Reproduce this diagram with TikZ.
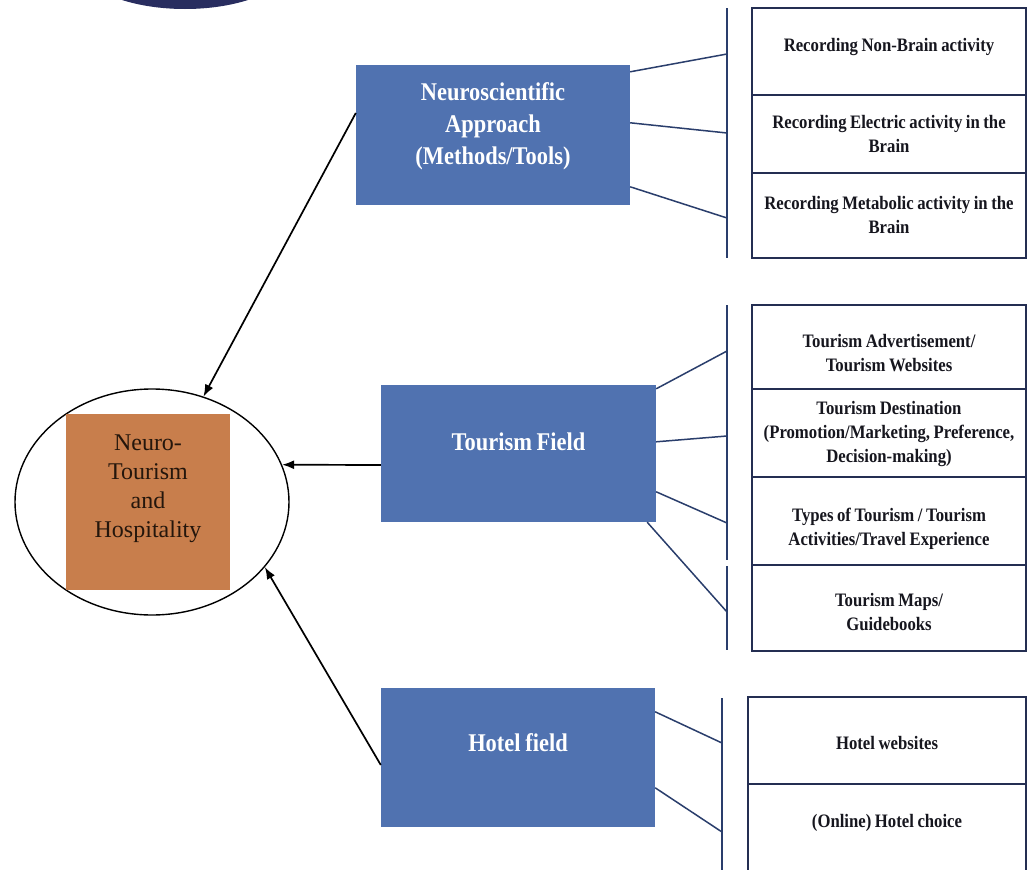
\documentclass[tikz,border=0pt]{standalone}
\usepackage{fontspec}
\setmainfont{Liberation Serif}
\newfontfamily\condfont{Liberation Serif}[FakeStretch=0.88,WordSpace=0.85]
\usetikzlibrary{arrows.meta,shapes.geometric}

\definecolor{fieldblue}{RGB}{80,114,176}
\definecolor{coreorange}{RGB}{200,126,76}
\definecolor{linknavy}{RGB}{42,62,108}
\definecolor{boxnavy}{RGB}{36,46,82}
\definecolor{itemtext}{RGB}{22,22,30}
\definecolor{coretext}{RGB}{36,22,12}
\definecolor{badge}{RGB}{40,45,95}

\tikzset{
  field/.style={rectangle, fill=fieldblue, inner sep=0pt},
  fieldlabel/.style={text=white, align=center, inner sep=0pt,
    font=\condfont\bfseries\fontsize{25.5}{32}\selectfont},
  item/.style={rectangle, draw=boxnavy, line width=1.6pt, fill=white, inner sep=0pt},
  itemlabel/.style={text=itemtext, align=center, inner sep=0pt,
    font=\condfont\bfseries\fontsize{19}{24}\selectfont},
  link/.style={draw=linknavy, line width=1.5pt},
  feed/.style={draw=black, line width=1.7pt, -{Latex[length=12pt,width=9pt]}},
}

\begin{document}
\begin{tikzpicture}[x=1pt,y=-1pt]
\useasboundingbox (0,0) rectangle (1028,870);
\clip (0,0) rectangle (1028,870);
\fill[white] (0,0) rectangle (1028,870);

% dark badge at the top edge
\fill[badge] (185,-41) ellipse [x radius=110, y radius=50];

% central topic
\node[ellipse, draw=black, line width=1.4pt, minimum width=274pt, minimum height=226pt]
  (ell) at (152,502) {};
\node[rectangle, fill=coreorange, minimum width=164pt, minimum height=176pt]
  (core) at (148,502) {};
\node[text=coretext, align=center, inner sep=0pt, font=\fontsize{24}{29}\selectfont]
  (coretxt) at ([yshift=13pt]core.center) {Neuro-\\Tourism\\and\\Hospitality};

% the three fields
\node[field, minimum width=274pt, minimum height=140pt] (nsa) at (493,135) {};
\node[fieldlabel] (nsatxt) at ([yshift=9pt]nsa.center)
  {Neuroscientific\\Approach\\(Methods/Tools)};
\node[field, minimum width=275pt, minimum height=137pt] (tf) at (518.5,453.5) {};
\node[fieldlabel] (tftxt) at ([yshift=11.5pt]tf.center) {Tourism Field};
\node[field, minimum width=274pt, minimum height=139pt] (hf) at (518,757.5) {};
\node[fieldlabel] (hftxt) at ([yshift=14.5pt]hf.center) {Hotel field};

% arrows into the central topic
\draw[feed] ([yshift=22pt]nsa.west) -- (ell.64);
\draw[feed] ([yshift=-11.5pt]tf.west) -- (ell.16);
\draw[feed] ([yshift=-7.5pt]hf.west) -- (ell.-30);

% methods / tools
\node[item, minimum width=274pt, minimum height=87pt] (m1) at (889,51.5) {};
\node[itemlabel] (m1t) at ([yshift=4.5pt]m1.center) {Recording Non-Brain activity};
\node[item, minimum width=274pt, minimum height=78pt] (m2) at (889,134) {};
\node[itemlabel] (m2t) at (m2.center) {Recording Electric activity in the\\Brain};
\node[item, minimum width=274pt, minimum height=85pt] (m3) at (889,215.5) {};
\node[itemlabel] (m3t) at ([yshift=1pt]m3.center) {Recording Metabolic activity in the\\Brain};

\coordinate (v1t) at (727,8);
\coordinate (v1b) at (727,258);
\coordinate (v1a) at (727,54);
\coordinate (v1c) at (727,133);
\coordinate (v1d) at (727,218);
\draw[link] (v1t) -- (v1b);
\draw[link] ([yshift=-7pt]nsa.north east) -- (v1a);
\draw[link] ([yshift=-58pt]nsa.north east) -- (v1c);
\draw[link] ([yshift=-122pt]nsa.north east) -- (v1d);

% tourism field
\node[item, minimum width=274pt, minimum height=84pt] (t1) at (889,347) {};
\node[itemlabel] (t1t) at ([yshift=-6.5pt]t1.center) {Tourism Advertisement/\\Tourism Websites};
\node[item, minimum width=274pt, minimum height=88pt] (t2) at (889,433) {};
\node[itemlabel] (t2t) at ([yshift=-1pt]t2.center)
  {Tourism Destination\\(Promotion/Marketing, Preference,\\Decision-making)};
\node[item, minimum width=274pt, minimum height=88pt] (t3) at (889,521) {};
\node[itemlabel] (t3t) at ([yshift=-8pt]t3.center)
  {Types of Tourism / Tourism\\Activities/Travel Experience};
\node[item, minimum width=274pt, minimum height=86pt] (t4) at (889,608) {};
\node[itemlabel] (t4t) at ([yshift=-4.5pt]t4.center) {Tourism Maps/\\Guidebooks};

\coordinate (v2t) at (727,305);
\coordinate (v2m) at (727,560);
\coordinate (v2n) at (727,566);
\coordinate (v2b) at (727,650);
\coordinate (v2a) at (727,351);
\coordinate (v2c) at (727,436);
\coordinate (v2d) at (727,523);
\coordinate (v2e) at (727,612);
\draw[link] (v2t) -- (v2m);
\draw[link] (v2n) -- (v2b);
\draw[link] ([yshift=-4pt]tf.north east) -- (v2a);
\draw[link] ([yshift=-57pt]tf.north east) -- (v2c);
\draw[link] ([yshift=-107pt]tf.north east) -- (v2d);
\draw[link] ([xshift=-9pt]tf.south east) -- (v2e);

% hotel field
\node[item, minimum width=278pt, minimum height=87pt] (h1) at (887,740.5) {};
\node[itemlabel] (h1t) at ([yshift=-2.5pt]h1.center) {Hotel websites};
\node[item, minimum width=278pt, minimum height=96pt] (h2) at (887,832) {};
\node[itemlabel] (h2t) at ([yshift=9pt]h2.center) {(Online) Hotel choice};

\coordinate (v3t) at (722,698);
\coordinate (v3b) at (722,872);
\coordinate (v3a) at (722,743);
\coordinate (v3c) at (722,832);
\draw[link] (v3t) -- (v3b);
\draw[link] ([yshift=-24pt]hf.north east) -- (v3a);
\draw[link] ([yshift=-100pt]hf.north east) -- (v3c);
\end{tikzpicture}
\end{document}
